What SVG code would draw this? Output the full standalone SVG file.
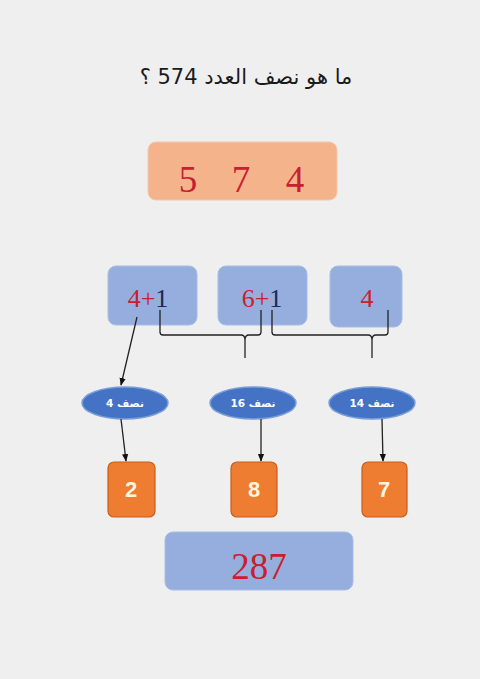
<svg xmlns="http://www.w3.org/2000/svg" width="480" height="679" viewBox="0 0 480 679">
<defs>
<marker id="ah" viewBox="0 0 10 10" refX="9" refY="5" markerWidth="6" markerHeight="6" orient="auto">
<path d="M0,1 L10,5 L0,9 Z" fill="#111"/>
</marker>
<style>
.title{font-family:"DejaVu Sans",sans-serif;font-size:21px;fill:#1a1a1a}
.peach{fill:#F5B38C;stroke:#F0C9AE;stroke-width:1}
.blue{fill:#95AEDD;stroke:#A7BDE4;stroke-width:1}
.ser{font-family:"Liberation Serif",serif;font-size:26px}
.big{font-size:37px}
.red{fill:#C8202E}
.navy{fill:#1E2752}
.ell{fill:#4472C4;stroke:#7A9CD8;stroke-width:1.5}
.elt{font-family:"DejaVu Sans",sans-serif;font-size:10.5px;font-weight:bold;fill:#fff}
.org{fill:#EE7D31;stroke:#C65E1C;stroke-width:1.2}
.ort{font-family:"Liberation Sans",sans-serif;font-size:22px;font-weight:bold;fill:#FFF6E0}
.ln{fill:none;stroke:#222;stroke-width:1.3}
</style>
</defs>
<rect width="480" height="679" fill="#EFEFEF"/>
<g id="title"><text class="title" x="246" y="84" text-anchor="middle" direction="rtl">ما هو نصف العدد 574 ؟</text></g>
<g id="number">
<rect class="peach" x="148" y="142" width="189" height="58" rx="8"/>
<text class="ser big red" x="188" y="192" text-anchor="middle">5</text>
<text class="ser big red" x="241" y="192" text-anchor="middle">7</text>
<text class="ser big red" x="295" y="192" text-anchor="middle">4</text>
</g>
<g id="b1"><rect class="blue" x="108" y="266" width="89" height="59" rx="8"/>
<text class="ser" x="148" y="307" text-anchor="middle"><tspan class="red">4+</tspan><tspan class="navy">1</tspan></text></g>
<g id="b2"><rect class="blue" x="218" y="266" width="89" height="59" rx="8"/>
<text class="ser" x="262" y="307" text-anchor="middle"><tspan class="red">6+</tspan><tspan class="navy">1</tspan></text></g>
<g id="b3"><rect class="blue" x="330" y="266" width="72" height="61" rx="8"/>
<text class="ser red" x="367" y="307" text-anchor="middle">4</text></g>
<g id="e1"><ellipse class="ell" cx="125" cy="403" rx="43" ry="16"/><text class="elt" x="125" y="407" text-anchor="middle" direction="rtl">نصف 4</text></g>
<g id="e2"><ellipse class="ell" cx="253" cy="403" rx="43" ry="16"/><text class="elt" x="253" y="407" text-anchor="middle" direction="rtl">نصف 16</text></g>
<g id="e3"><ellipse class="ell" cx="372" cy="403" rx="43" ry="16"/><text class="elt" x="372" y="407" text-anchor="middle" direction="rtl">نصف 14</text></g>
<g id="r1"><rect class="org" x="108" y="462" width="47" height="55" rx="6"/><text class="ort" x="131" y="497" text-anchor="middle">2</text></g>
<g id="r2"><rect class="org" x="231" y="462" width="46" height="55" rx="6"/><text class="ort" x="254" y="497" text-anchor="middle">8</text></g>
<g id="r3"><rect class="org" x="362" y="462" width="45" height="55" rx="6"/><text class="ort" x="384" y="497" text-anchor="middle">7</text></g>
<g id="result"><rect class="blue" x="165" y="532" width="188" height="58" rx="8"/>
<text class="ser big red" x="259" y="579" text-anchor="middle">287</text></g>
<g id="connectors">
<path class="ln" d="M137,317 L121,385" marker-end="url(#ah)"/>
<path class="ln" d="M121,419 L126,461" marker-end="url(#ah)"/>
<path class="ln" d="M261,419 L261,461" marker-end="url(#ah)"/>
<path class="ln" d="M382,419 L383,461" marker-end="url(#ah)"/>
<path class="ln" d="M160,310 L160,332 Q160,335 163,335 L241,335 Q245,335 245,340 L245,358 M245,340 Q245,335 249,335 L258,335 Q261,335 261,332 L261,310"/>
<path class="ln" d="M272,310 L272,332 Q272,335 275,335 L368,335 Q372,335 372,340 L372,358 M372,340 Q372,335 376,335 L385,335 Q388,335 388,332 L388,310"/>
</g>
</svg>
